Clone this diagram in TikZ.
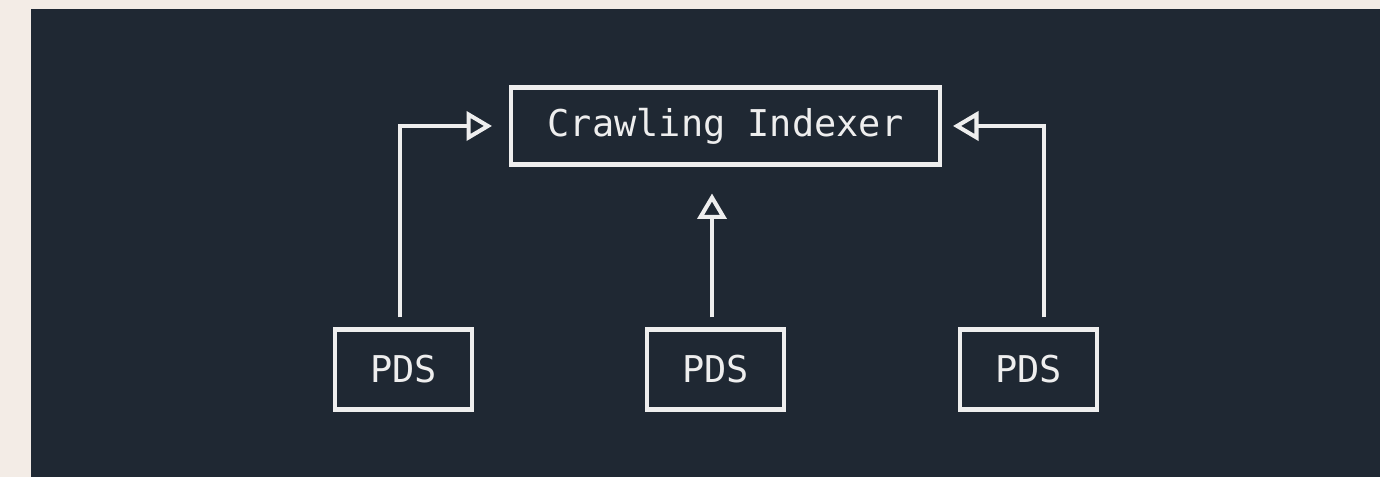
\documentclass[tikz,border=0pt]{standalone}
\usepackage{fontspec}
\setmonofont{DejaVu Sans Mono}
\definecolor{pagebeige}{RGB}{243,236,230}
\definecolor{slatedark}{RGB}{31,40,51}
\definecolor{chalkwhite}{RGB}{238,238,238}
\usetikzlibrary{arrows.meta, positioning, calc}

\begin{document}
\begin{tikzpicture}[
    box/.style={draw=chalkwhite, line width=2.3pt, inner sep=0pt, text=chalkwhite, font=\ttfamily\fontsize{21}{25}\selectfont},
    arrow/.style={-{Triangle[open, length=14.5pt, width=16.5pt]}, line width=2.3pt, chalkwhite}
]
% Background and panel
\fill[pagebeige] (0,0) rectangle (27.6,9.54);
\fill[slatedark] (0.62,0) rectangle (27.6,9.36);

% Boxes
\node[box, minimum width=8.58cm, minimum height=1.54cm] (CI) at (14.51,7.02) {Crawling Indexer};
\node[box, minimum width=2.74cm, minimum height=1.6cm] (P1) at (8.07,2.15) {PDS};
\node[box, minimum width=2.74cm, minimum height=1.6cm] (P2) at (14.31,2.15) {PDS};
\node[box, minimum width=2.74cm, minimum height=1.6cm] (P3) at (20.57,2.15) {PDS};

% Arrows
\draw[arrow, shorten <=0.2cm, shorten >=0.34cm] ([xshift=-0.07cm]P1.north) |- (CI.west);
\draw[arrow, shorten <=0.2cm, shorten >=0.54cm] ([xshift=-0.07cm]P2.north) -- ([xshift=-0.07cm]P2.north |- CI.south);
\draw[arrow, shorten <=0.2cm, shorten >=0.22cm] ([xshift=0.31cm]P3.north) |- (CI.east);

\end{tikzpicture}
\end{document}
